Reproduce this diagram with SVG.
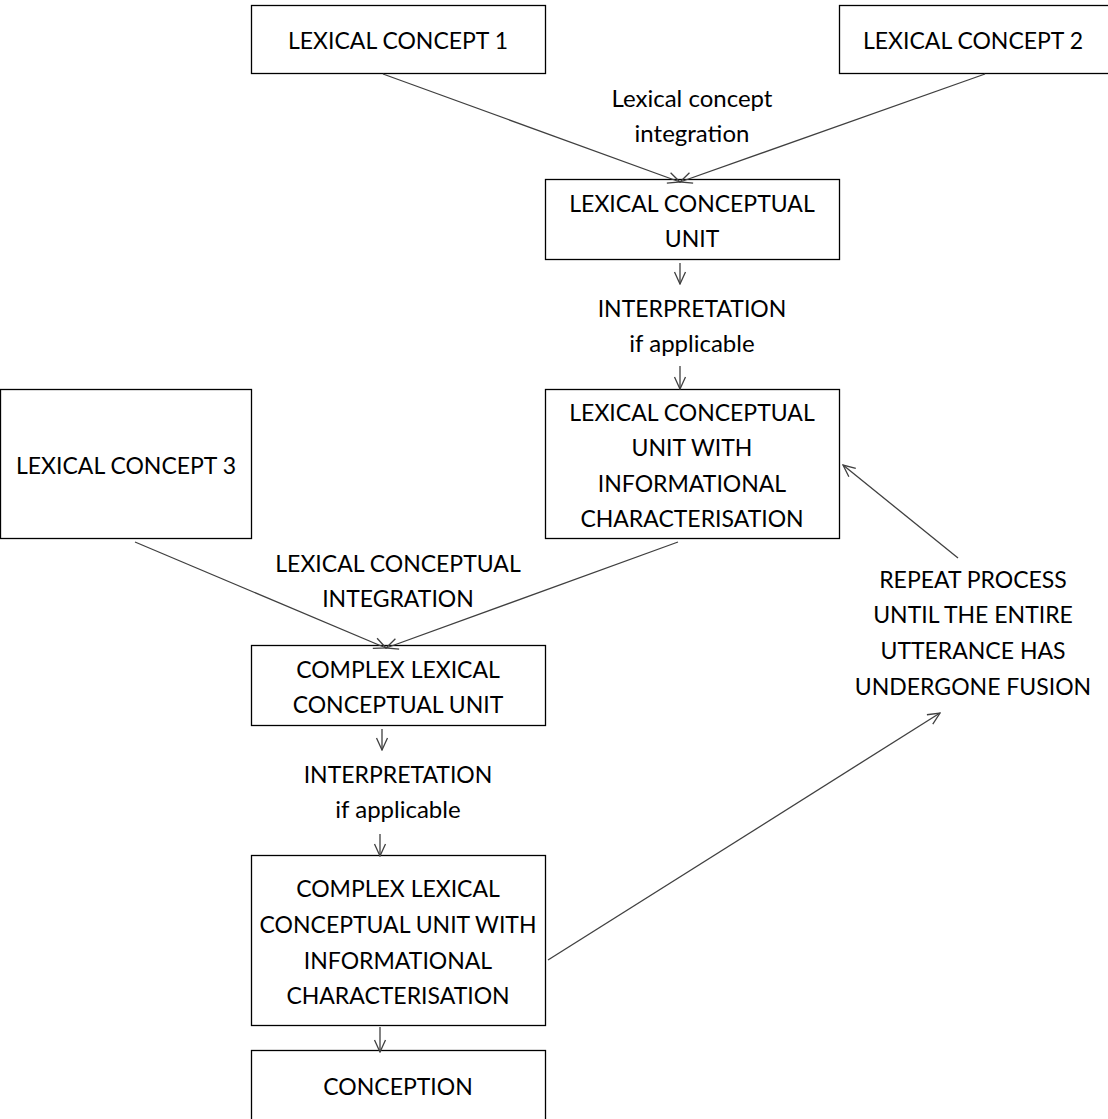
<svg xmlns="http://www.w3.org/2000/svg" width="1108" height="1119" viewBox="0 0 1108 1119">
<style>
.box{fill:#fff;stroke:#000;stroke-width:1.3}
text{font-family:Lato,"Open Sans",sans-serif;font-size:23px;fill:#000;text-anchor:middle}
text.lc{font-size:24px}
.c line{stroke:#404040;stroke-width:1.3;fill:none}
</style>
<defs>
<marker id="ah" viewBox="0 0 14 14" refX="13" refY="7" markerWidth="14" markerHeight="14" markerUnits="userSpaceOnUse" orient="auto">
<path d="M1,1.5 L13,7 L1,12.5" fill="none" stroke="#404040" stroke-width="1.3"/>
</marker>
</defs>
<rect width="1108" height="1119" fill="#fff"/>
<g id="lc1"><rect class="box" x="251.5" y="5.5" width="294" height="68"/><text x="398" y="49">LEXICAL CONCEPT 1</text></g>
<g id="lc2"><rect class="box" x="839.5" y="5.5" width="275" height="68"/><text x="973" y="49">LEXICAL CONCEPT 2</text></g>
<g id="lcu"><rect class="box" x="545.5" y="179.5" width="294" height="80"/><text x="692" y="212">LEXICAL CONCEPTUAL</text><text x="692" y="247">UNIT</text></g>
<g id="lcuic"><rect class="box" x="545.5" y="389.5" width="294" height="149"/><text x="692" y="421">LEXICAL CONCEPTUAL</text><text x="692" y="456">UNIT WITH</text><text x="692" y="492">INFORMATIONAL</text><text x="692" y="527">CHARACTERISATION</text></g>
<g id="lc3"><rect class="box" x="0.5" y="389.5" width="251" height="149"/><text x="126" y="474">LEXICAL CONCEPT 3</text></g>
<g id="clcu"><rect class="box" x="251.5" y="645.5" width="294" height="80"/><text x="398" y="678">COMPLEX LEXICAL</text><text x="398" y="713">CONCEPTUAL UNIT</text></g>
<g id="clcuic"><rect class="box" x="251.5" y="855.5" width="294" height="170"/><text x="398" y="897">COMPLEX LEXICAL</text><text x="398" y="933">CONCEPTUAL UNIT WITH</text><text x="398" y="969">INFORMATIONAL</text><text x="398" y="1004">CHARACTERISATION</text></g>
<g id="conception"><rect class="box" x="251.5" y="1050.5" width="294" height="80"/><text x="398" y="1095">CONCEPTION</text></g>
<g id="labels">
<text class="lc" x="692" y="107">Lexical concept</text><text class="lc" x="692" y="142">integration</text>
<text x="692" y="317">INTERPRETATION</text><text class="lc" x="692" y="352">if applicable</text>
<text x="398" y="572">LEXICAL CONCEPTUAL</text><text x="398" y="607">INTEGRATION</text>
<text x="398" y="783">INTERPRETATION</text><text class="lc" x="398" y="818">if applicable</text>
<text x="973" y="588">REPEAT PROCESS</text><text x="973" y="623">UNTIL THE ENTIRE</text><text x="973" y="659">UTTERANCE HAS</text><text x="973" y="695">UNDERGONE FUSION</text>
</g>
<g class="c" id="connectors">
<line x1="383" y1="74" x2="680" y2="182" marker-end="url(#ah)"/>
<line x1="985" y1="74" x2="680" y2="182" marker-end="url(#ah)"/>
<line x1="680" y1="263" x2="680" y2="284" marker-end="url(#ah)"/>
<line x1="680" y1="366" x2="680" y2="389" marker-end="url(#ah)"/>
<line x1="135" y1="542" x2="386" y2="648" marker-end="url(#ah)"/>
<line x1="678" y1="542" x2="386" y2="648" marker-end="url(#ah)"/>
<line x1="382" y1="729" x2="382" y2="750" marker-end="url(#ah)"/>
<line x1="380" y1="834" x2="380" y2="856" marker-end="url(#ah)"/>
<line x1="380" y1="1027" x2="380" y2="1052" marker-end="url(#ah)"/>
<line x1="548" y1="960" x2="940" y2="713" marker-end="url(#ah)"/>
<line x1="958" y1="558" x2="843" y2="465" marker-end="url(#ah)"/>
</g>
</svg>
